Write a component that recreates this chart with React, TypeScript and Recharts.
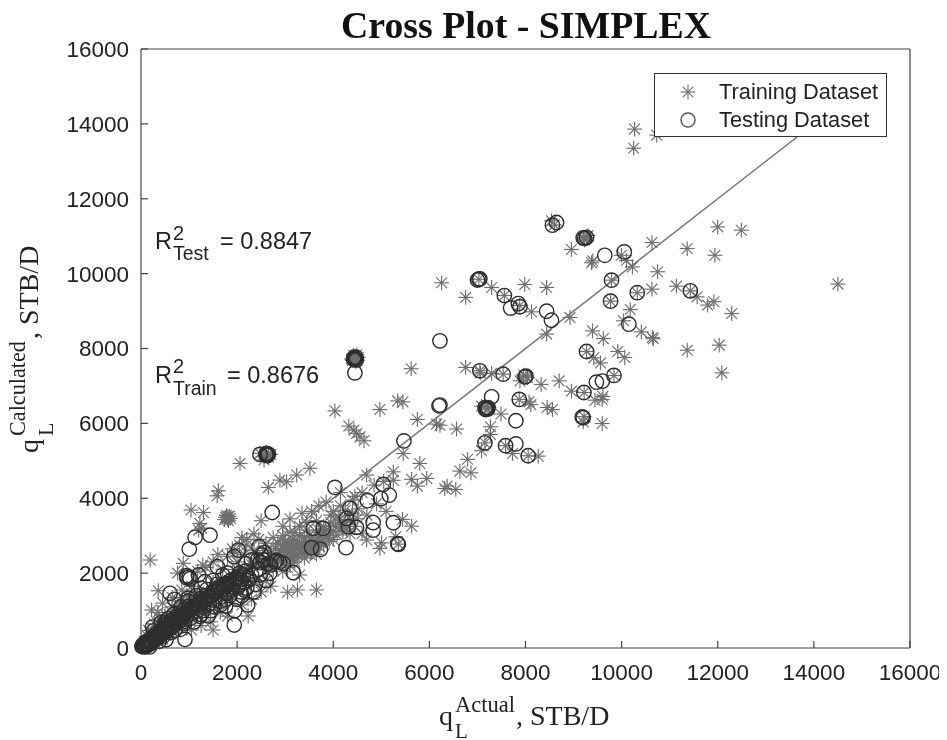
import React from "react";
import { ScatterChart, Scatter, XAxis, YAxis, ReferenceLine } from "recharts";

type P = [number, number];

const xTicks = [0, 2000, 4000, 6000, 8000, 10000, 12000, 14000, 16000];
const yTicks = [0, 2000, 4000, 6000, 8000, 10000, 12000, 14000, 16000];
const fitLine: P[] = [[0, 0], [14500, 14500]];

const trainingHigh: P[] = [
  [10270,13860],[10250,13350],[10730,13700],[12000,11250],[12490,11160],[11365,10670],[11940,10490],[10630,10830],
  [10750,10050],[10630,9585],[10325,9490],[11140,9665],[11430,9540],[11570,9380],[11790,9160],[11920,9250],[12290,8935],
  [12030,8090],[11365,7955],[12085,7350],[14500,9720],[10180,9040],[10040,8740],[10410,8445],[10640,8295],[10660,8260],
  [10225,10180],[9995,10490],[10100,10350],[8955,10645],[9375,10290],[9400,10340],[8540,11410],[8600,11300],[8925,8830],
  [8440,8385],[9395,8470],[9620,8265],[9920,7920],[10065,7760],[9420,7750],[9560,7615],[8700,7135],[8325,7040],[8955,6860],
  [9595,6640],[9445,6620],[9610,6720],[9595,5995],[9200,6040],[9220,6180],[8450,6425],[8560,6370],[8075,6575],[8110,6500],[7885,7135],
  [7985,9710],[8440,9630],[8125,8980],[7295,9630],[6755,9365],[6255,9755],[6755,7495],[7295,7335],[7490,6250],[7085,6460],
  [7270,5910],[7270,5705],[7085,5270],[7730,5195],[8265,5125],[6565,5850],[6795,5040],[6635,4725],[6865,4680],[6370,4325],
  [6550,4235],[6220,5950],[7030,9850],[7560,9415],[7880,9150],[9790,9825],[9770,9265],[9270,7920],[9840,7280],[7050,7405],
  [7535,7315],[8010,7260],[7060,7350],[7160,6440],[7200,6380],[7240,6430],[7870,6640],[7155,5480],[7585,5405],[8055,5135],
  [9220,6825],[9205,10950],[9270,10965],[8040,7220],[7960,7290],[9230,10900],[9300,11020],
];

const trainingMid: P[] = [
  [4035,6335],[4970,6370],[5450,6575],[5750,6105],[6150,5980],[4325,5927],[4430,5820],[4485,5730],[4555,5640],[4640,5535],
  [5455,5195],[5800,4930],[5250,4705],[4695,4620],[5630,4505],[5945,4530],[5750,4325],[6320,4260],[3515,4800],[3240,4620],
  [3030,4440],[2890,4485],[2650,4290],[2060,4930],[2475,5200],[2560,5120],[2600,5230],[2650,5100],[2700,5170],[2560,5020],
  [1610,4200],[1585,4065],[1040,3685],[1300,3620],[1225,3325],[1260,3200],[1200,3150],[1760,3490],[1800,3440],[1840,3520],
  [1780,3540],[1820,3400],[1740,3430],[1860,3460],[1790,3480],[1810,3510],[190,2350],[360,1530],[220,1015],[880,2260],[1285,2215],[760,2000],[5440,3435],[5630,3255],
  [5300,2970],[5355,2775],[5005,2810],[4970,2660],[4695,2885],[3650,1550],[3255,1550],[3050,1490],[2230,855],
  [4440,7760],[4380,7720],[4500,7680],[4420,7820],[4470,7650],[4520,7760],[4400,7680],[4490,7830],[5620,7460],[5340,6600],
  [4250,3680],[4400,3950],[4600,4150],[4850,4350],[5050,4450],[5250,4480],[4000,3650],[3850,3900],[3700,3800],[4150,4150],
  [3950,3350],[4150,3300],[4350,3050],[3550,3650],[3450,3350],[3300,3250],[3100,3450],[3350,3600],[3200,3080],[2950,3000],
  [3650,3100],[3750,2850],[3900,3000],[3500,3000],[3350,2750],[3550,2550],[3250,2850],[3150,2650],[3050,2700],[3400,2400],
  [3650,2500],[3200,2450],[3000,2500],[2850,2800],[2700,2550],[2600,2800],[2900,2300],[2750,2100],[3300,1950],[3050,2150],
  [2600,2250],[2450,2400],[2350,2600],[2200,2900],[2050,2750],[1900,2650],[2150,2500],[2000,2300],[1800,2450],[1950,2550],
  [3500,2750],[3600,2800],[3450,2650],[3150,2900],[3300,2750],[3000,2850],[3700,3150],[3100,2550],[4000,2900],
];

const trainingBand: P[] = [
  [4450,4050],[4300,3550],[4500,3450],[4100,3500],[3800,3250],[3950,3550],[4150,3800],[3650,3400],[3450,3150],[3300,3000],
  [3150,2800],[3000,2650],[3250,2650],[3400,2950],[3550,2850],[3700,2950],[3800,2750],[3350,2550],[3200,2300],[3000,2350],
  [2800,2450],[2650,2350],[2800,2650],[2950,2750],[3100,3100],[2950,3250],[2750,2950],[2550,2600],[3450,2550],[3600,2650],
  [4200,3100],[4050,3250],[3900,3150],[3850,2950],[4250,3350],[4450,3250],[4600,3050],[4700,3550],[4900,3850],[5100,3650],
  [2500,3400],[2350,3050],[2200,2750],[2100,2950],[2450,2900],[2000,2100],[2250,2150],[2350,1800],[2600,1800],[2700,1650],
  [2950,2050],[2500,1500],[2300,1300],[2100,1150],[1850,1300],[1650,950],[1450,700],[1250,600],[1050,480],[1300,1450],
  [1500,1750],[1700,2100],[1100,1500],[950,1400],[800,1250],[650,1100],[500,900],[380,780],[280,640],[160,470],
  [200,180],[330,300],[470,430],[600,560],[730,700],[860,830],[1000,980],[1130,1100],[1270,1240],[1400,1380],
  [1550,1520],[1700,1660],[1840,1800],[2000,1960],[2150,2080],[2300,2230],[2450,2300],[150,60],[300,130],[450,240],
  [620,380],[770,560],[920,690],[1080,820],[1220,980],[1370,1100],[1520,1200],[1680,1300],[1820,1450],[1970,1520],
  [70,180],[140,310],[230,420],[350,560],[480,700],[600,860],[730,1030],[880,1180],[1020,1300],[1180,1480],
  [3300,2600],[3380,2700],[3420,2820],[3520,2500],[3580,2720],[3650,2880],[3720,2700],[3780,3050],[3850,3150],[3920,2850],
  [4000,3120],[4080,3020],[4130,3420],[4200,3250],[4280,3180],[4350,3420],[4400,3600],[4520,3720],[3250,2500],[3180,2380],
  [3080,2420],[3150,2520],[3020,2580],[3080,2780],[3220,2720],[2900,2600],[3100,2200],[2850,2450],[2700,2300],[2650,2150],
  [1500,2300],[1600,2500],[1350,2150],[1180,2050],[1050,1650],[850,1550],[650,1350],[450,1200],[350,950],[1800,850],[1500,480],
];

const testingHigh: P[] = [
  [8645,11365],[8560,11295],[9200,10955],[9270,10965],[9230,10940],[9650,10490],[10055,10580],[9790,9825],[10325,9490],[11430,9540],
  [7030,9850],[7000,9830],[7050,9860],[7560,9415],[7850,9200],[7885,9115],[7690,9080],[8440,8995],[8540,8755],[9770,9265],[10150,8650],
  [6220,8205],[9270,7920],[9840,7280],[9600,7130],[9475,7100],[9215,6825],[9200,6150],[9180,6170],[7050,7405],[7535,7315],[8010,7260],
  [7990,7240],[7295,6710],[7190,6400],[7160,6420],[7210,6380],[7170,6370],[7220,6420],[7870,6640],[7800,6070],[7155,5480],[7585,5405],[7800,5450],[8055,5135],
  [6200,6470],[6220,6490],
];

const testingMid: P[] = [
  [4430,7760],[4460,7730],[4440,7700],[4470,7770],[4420,7720],[4480,7700],[4450,7350],[2475,5170],[2625,5170],[2600,5160],[2650,5180],[2630,5140],[2610,5200],
  [5470,5530],[4035,4290],[2730,3620],[5040,4370],[4710,3935],[4990,3990],[5165,4085],[4345,3730],[4275,3460],[4315,3240],[4485,3220],
  [4830,3350],[4830,3150],[5250,3345],[5355,2770],[5340,2790],[4265,2680],[3585,3195],[3790,3195],[3550,2680],[3735,2635],[1125,2955],
  [1435,3015],[1005,2640],[2025,2615],[2455,2705],[1935,2440],[1590,2170],[950,1930],[1195,1950],[1330,1770],[605,1460],[3170,2010],
  [2785,2305],[2960,2260],[2510,2485],[2300,2350],[2480,2280],[2640,2250],[2480,1950],[2180,2060],[2380,1700],[2100,1400],[1940,615],
  [915,230],[2220,1150],[1950,1000],[1250,900],[2820,2340],[2880,2290],[2700,2220],[2560,2550],[2420,2350],[2180,2250],[2050,2000],
  [2300,1950],[2450,2100],[2680,2000],[2600,1800],[2220,1800],[2350,1500],[2150,1550],[2000,1850],[2050,1700],[2550,2350],[1000,1900],[1020,1850],[950,1880],
];

const testingDense: P[] = [
  [40,50],[60,110],[90,80],[110,170],[130,60],[170,150],[190,220],[230,180],[260,310],[300,240],[330,390],[370,290],[410,450],[440,370],
  [490,540],[520,430],[560,640],[600,510],[640,730],[680,590],[720,830],[760,670],[800,920],[850,760],[900,1020],[950,850],[1000,1120],
  [1060,930],[1120,1220],[1180,1000],[1240,1320],[1300,1100],[1360,1400],[1420,1180],[1480,1500],[1540,1280],[1600,1600],[1660,1360],
  [1720,1700],[1780,1460],[1840,1780],[1900,1550],[1960,1860],[2020,1620],[2080,1500],[2140,1750],[2200,1600],[2260,1850],[240,560],
  [380,180],[560,780],[700,1300],[820,500],[980,1330],[1100,700],[1250,1600],[1400,860],[1500,1800],[1650,1150],[1760,1120],[1800,2000],
  [180,30],[420,480],[640,420],[900,650],[520,220],[2000,1300],[1700,1950],[70,30],[50,90],[20,40],[100,40],[150,100],[210,120],
  [280,200],[350,340],[450,300],[500,620],[620,650],[740,760],[840,880],[960,960],[1080,1080],[1200,1180],[1320,1280],[1440,1380],
  [1560,1480],[1680,1540],[1800,1660],[1920,1720],[1150,1400],[1370,1560],[1580,1700],[1220,850],[1450,1000],[1650,1250],[1850,1400],
  [500,680],[680,900],[830,1100],[980,1250],[420,680],[260,460],[700,480],[880,700],[1030,800],[1300,1000],[1520,1100],[1760,1300],
  [30,70],[70,70],[120,110],[160,190],[200,170],[250,240],[320,280],[380,350],[430,410],[480,470],[530,500],[590,570],[650,620],[700,700],
  [770,780],[820,800],[880,860],[930,930],[1000,1000],[1050,1040],[1110,1120],[1170,1150],[1230,1210],[1290,1260],[1350,1300],[1410,1350],
  [1470,1420],[1530,1500],[1590,1530],[1650,1620],[1710,1650],[1770,1720],[1830,1700],[1890,1820],[1950,1780],[2010,1900],[2070,1820],[2130,1950],
];

const FONT = '"Liberation Sans", Arial, sans-serif';
const SERIF = '"Liberation Serif", "Times New Roman", serif';
const STAR = "#6e6e6e";
const RING = "#2e2e2e";
const INK = "#222222";

const Star = (props: any) => {
  const { cx, cy } = props;
  const a = 7.4;
  const d = 5.4;
  return (
    <g stroke={STAR} strokeWidth={1.15} fill="none">
      <line x1={cx} y1={cy - a} x2={cx} y2={cy + a} />
      <line x1={cx - a} y1={cy} x2={cx + a} y2={cy} />
      <line x1={cx - d} y1={cy - d} x2={cx + d} y2={cy + d} />
      <line x1={cx - d} y1={cy + d} x2={cx + d} y2={cy - d} />
    </g>
  );
};

const Ring = (props: any) => (
  <circle cx={props.cx} cy={props.cy} r={7.2} fill="none" stroke={RING} strokeWidth={1.4} />
);

const toPoints = (list: P[]) => list.map(([x, y]) => ({ x, y }));

// All text coordinates below are page pixels; the wrapper sits at (8, 8).
const T = ({ x, y, size, family = FONT, rotate = false, children }: any) => (
  <text x={x - 8} y={y - 8} fontSize={size} fontFamily={family} fill={INK}
    transform={rotate ? `rotate(-90 ${x - 8} ${y - 8})` : undefined}>
    {children}
  </text>
);

export default function App() {
  const W = 939;
  const H = 732;
  const tickStyle = { fontFamily: FONT, fontSize: 22.5, fill: INK };
  const lineStyle = { stroke: "#444444", strokeWidth: 1.2 };
  return (
    <div style={{ position: "relative", width: W, height: H, overflow: "hidden", filter: "blur(0.35px)" }}>
      <ScatterChart width={W} height={H} margin={{ top: 40, right: 36, bottom: 0, left: 0 }} style={{ background: "#fff" }}>
        <XAxis xAxisId="b" type="number" dataKey="x" domain={[0, 16000]} ticks={xTicks} orientation="bottom" height={92}
          interval={0} axisLine={lineStyle} tickLine={lineStyle} tickSize={-7} tickMargin={23} tick={tickStyle} />
        <XAxis xAxisId="t" type="number" dataKey="x" domain={[0, 16000]} ticks={xTicks} orientation="top" height={1}
          interval={0} axisLine={lineStyle} tickLine={lineStyle} tickSize={-7} tickFormatter={() => ""} />
        <YAxis yAxisId="l" type="number" dataKey="y" domain={[0, 16000]} ticks={yTicks} orientation="left" width={133}
          interval={0} axisLine={lineStyle} tickLine={lineStyle} tickSize={-7} tickMargin={19} tick={tickStyle} />
        <YAxis yAxisId="r" type="number" dataKey="y" domain={[0, 16000]} ticks={yTicks} orientation="right" width={1}
          interval={0} axisLine={lineStyle} tickLine={lineStyle} tickSize={-7} tickFormatter={() => ""} />
        <ReferenceLine xAxisId="b" yAxisId="l" segment={fitLine.map(([x, y]) => ({ x, y }))} stroke="#777777" strokeWidth={1.5} />
        {[trainingHigh, trainingMid, trainingBand].map((list, i) => (
          <Scatter key={"tr" + i} xAxisId="b" yAxisId="l" data={toPoints(list)} shape={Star} isAnimationActive={false} />
        ))}
        {[testingHigh, testingMid, testingDense].map((list, i) => (
          <Scatter key={"te" + i} xAxisId="b" yAxisId="l" data={toPoints(list)} shape={Ring} isAnimationActive={false} />
        ))}
      </ScatterChart>

      <svg width={W} height={H} style={{ position: "absolute", left: 0, top: 0, pointerEvents: "none" }}>
        <text x={526 - 8} y={38 - 8} textAnchor="middle" fontFamily={SERIF} fontWeight={700} fontSize={37.8} fill="#111">Cross Plot - SIMPLEX</text>

        <T x={155} y={249} size={23.5}>R</T>
        <T x={173} y={240} size={20}>2</T>
        <T x={173} y={260} size={19.5}>Test</T>
        <T x={220} y={249} size={23.5}>= 0.8847</T>

        <T x={155} y={383} size={23.5}>R</T>
        <T x={173} y={373} size={20}>2</T>
        <T x={173} y={395} size={19.5}>Train</T>
        <T x={227} y={383} size={23.5}>= 0.8676</T>

        <T x={439} y={725} size={28} family={SERIF}>q</T>
        <T x={455} y={712} size={22.5} family={SERIF}>Actual</T>
        <T x={455} y={738} size={21} family={SERIF}>L</T>
        <T x={516} y={725} size={28} family={SERIF}>, STB/D</T>

        <T x={38} y={453} size={28} family={SERIF} rotate>q</T>
        <T x={25} y={436} size={22.2} family={SERIF} rotate>Calculated</T>
        <T x={53} y={436} size={22} family={SERIF} rotate>L</T>
        <T x={38} y={339} size={28} family={SERIF} rotate>, STB/D</T>
      </svg>

      <div style={{ position: "absolute", left: 646, top: 65, width: 233, height: 64, border: "1.5px solid #333", background: "#fff", boxSizing: "border-box", fontFamily: FONT, fontSize: 21.8, color: INK }}>
        <svg width={60} height={60} style={{ position: "absolute", left: 0, top: 0 }}>
          <Star cx={33} cy={18} />
          <circle cx={33} cy={46} r={7} fill="none" stroke="#555" strokeWidth={1.4} />
        </svg>
        <div style={{ position: "absolute", left: 64, top: 5 }}>Training Dataset</div>
        <div style={{ position: "absolute", left: 64, top: 33 }}>Testing Dataset</div>
      </div>
    </div>
  );
}
